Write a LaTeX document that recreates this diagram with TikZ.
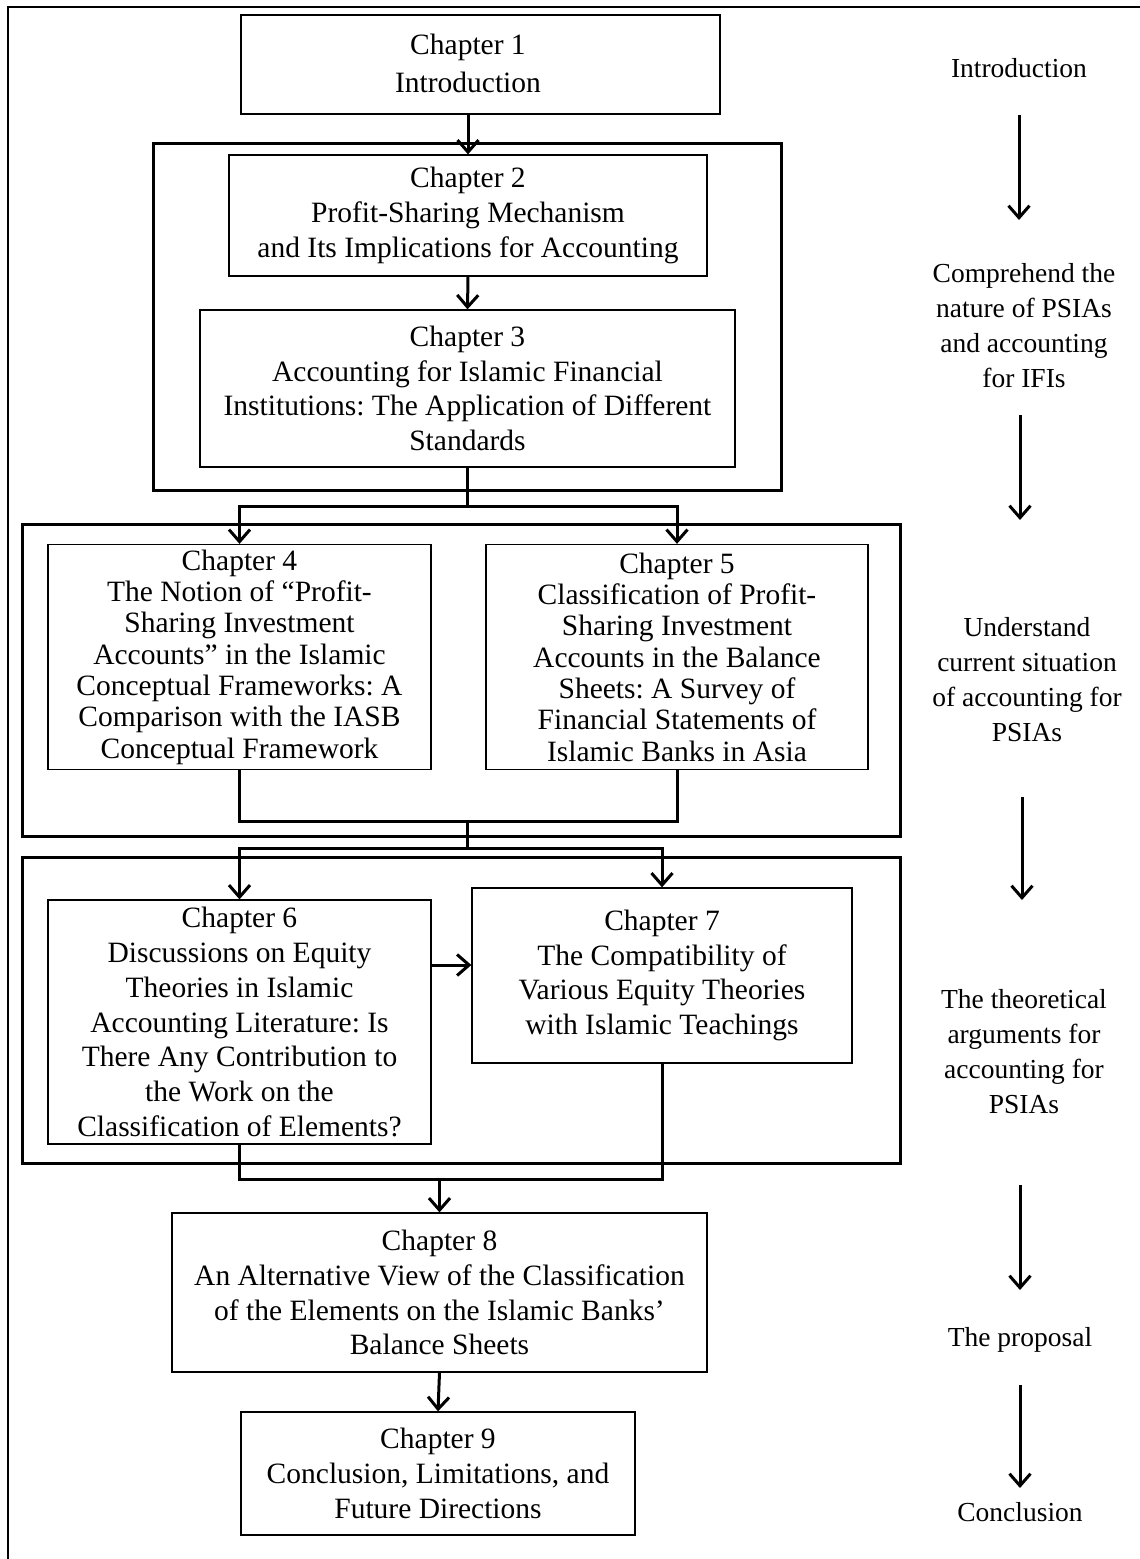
\documentclass[tikz,border=0pt]{standalone}
\usepackage{fontspec}
\setmainfont{Liberation Serif}
\usetikzlibrary{arrows.meta}
\frenchspacing
\begin{document}
\begin{tikzpicture}[x=1pt,y=-1pt,
  chap/.style={draw,line width=1.3pt,align=center,inner sep=0pt,font=\fontsize{29.5}{34.8}\selectfont},
  chaptight/.style={chap,font=\fontsize{29.5}{31.3}\selectfont},
  grp/.style={draw,line width=3pt},
  conn/.style={line width=3pt},
  arr/.style={line width=3pt,-{Straight Barb[length=12pt,width=21pt]}},
  lab/.style={align=center,inner sep=0pt,font=\fontsize{27.5}{35}\selectfont}]
\useasboundingbox (0,0) rectangle (1140,1559);
\draw[line width=2pt] (8,1559) -- (8,7) -- (1140,7);
% groups
\draw[grp] (153,143) rectangle (781,490);
\draw[grp] (22,524) rectangle (900,836);
\draw[grp] (22,857) rectangle (900,1163);
% chapters
\node[draw,line width=1.3pt,minimum width=479pt,minimum height=99pt,inner sep=0pt] (ch1) at (480.5,64.5) {};
\node[align=center,inner sep=0pt,font=\fontsize{29.5}{38}\selectfont] (t1) at (468,63) {Chapter 1\\Introduction};
\node[chap,minimum width=478pt,minimum height=121pt] (ch2) at (468,215.5) {Chapter 2\\Profit-Sharing Mechanism\\and Its Implications for Accounting};
\node[chap,minimum width=535pt,minimum height=157pt] (ch3) at (467.5,388.5) {Chapter 3\\Accounting for Islamic Financial\\Institutions: The Application of Different\\Standards};
\node[chaptight,minimum width=383pt,minimum height=225pt] (ch4) at (239.5,657) {Chapter 4\\The Notion of “Profit-\\Sharing Investment\\Accounts” in the Islamic\\Conceptual Frameworks: A\\Comparison with the IASB\\Conceptual Framework};
\node[chaptight,minimum width=382pt,minimum height=225pt] (ch5) at (677,657) {Chapter 5\\Classification of Profit-\\Sharing Investment\\Accounts in the Balance\\Sheets: A Survey of\\Financial Statements of\\Islamic Banks in Asia};
\node[chap,minimum width=383pt,minimum height=244pt] (ch6) at (239.5,1022) {Chapter 6\\Discussions on Equity\\Theories in Islamic\\Accounting Literature: Is\\There Any Contribution to\\the Work on the\\Classification of Elements?};
\node[chap,minimum width=380pt,minimum height=175pt] (ch7) at (662,975.5) {Chapter 7\\The Compatibility of\\Various Equity Theories\\with Islamic Teachings};
\node[chap,minimum width=535pt,minimum height=159pt] (ch8) at (439.5,1292.5) {Chapter 8\\An Alternative View of the Classification\\of the Elements on the Islamic Banks’\\Balance Sheets};
\node[chap,minimum width=394pt,minimum height=123pt] (ch9) at (438,1473.5) {Chapter 9\\Conclusion, Limitations, and\\Future Directions};
% connectors
\draw[arr] (ch1.south -| ch2.north) -- (ch2.north);
\draw[arr] (ch2.south) -- (ch3.north);
\coordinate (j1) at (467.5,506);
\draw[conn] (ch3.south) -- (j1);
\draw[arr] (j1) -| (ch4.north);
\draw[arr] (j1) -| (ch5.north);
\coordinate (j2) at (467.5,821);
\coordinate (j3) at (467.5,848);
\draw[conn] (ch4.south) |- (j2) -| (ch5.south);
\draw[conn] (j2) -- (j3);
\draw[arr] (j3) -| (ch6.north);
\draw[arr] (j3) -| (ch7.north);
\coordinate (h67) at (450,965);
\draw[arr] (ch6.east |- h67) -- (ch7.west |- h67);
\coordinate (j4) at (439.5,1179);
\draw[conn] (ch6.south) |- (j4) -| (ch7.south);
\draw[arr] (j4) -- (ch8.north);
\draw[arr] (ch8.south) -- (ch9.north);
% right labels
\node[lab] (l1) at (1019,68) {Introduction};
\node[lab] (l2) at (1024,326) {Comprehend the\\nature of PSIAs\\and accounting\\for IFIs};
\node[lab] (l3) at (1027,680) {Understand\\current situation\\of accounting for\\PSIAs};
\node[lab] (l4) at (1024,1052) {The theoretical\\arguments for\\accounting for\\PSIAs};
\node[lab] (l5) at (1020,1340) {The proposal};
\node[lab] (l6) at (1020,1512) {Conclusion};
\coordinate (r1a) at (1019,115); \coordinate (r1b) at (1019,220);
\coordinate (r2a) at (1020,415); \coordinate (r2b) at (1020,520);
\coordinate (r3a) at (1022,797); \coordinate (r3b) at (1022,900);
\coordinate (r4a) at (1020,1185); \coordinate (r4b) at (1020,1290);
\coordinate (r5a) at (1020,1385); \coordinate (r5b) at (1020,1488);
\draw[arr] (r1a) -- (r1b);
\draw[arr] (r2a) -- (r2b);
\draw[arr] (r3a) -- (r3b);
\draw[arr] (r4a) -- (r4b);
\draw[arr] (r5a) -- (r5b);
\end{tikzpicture}
\end{document}
